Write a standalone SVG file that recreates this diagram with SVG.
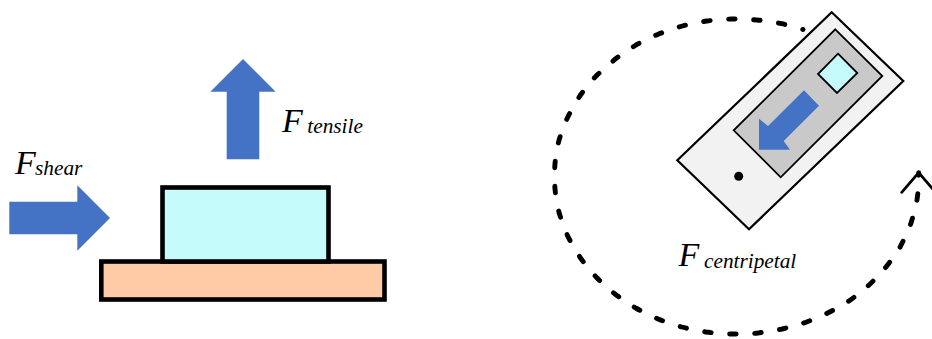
<svg xmlns="http://www.w3.org/2000/svg" width="932" height="339" viewBox="0 0 932 339">
<style>
.force{fill:#4472C4}
.thick{stroke:#000;stroke-width:4.6}
.thin{stroke:#000;stroke-width:2.2;stroke-linejoin:miter}
.lbl{font-family:"Liberation Serif","Times New Roman",serif;font-style:italic;fill:#000}
.big{font-size:34px}
.sub{font-size:21.3px}
</style>
<defs>
<marker id="openHead" markerUnits="userSpaceOnUse" markerWidth="44" markerHeight="30" refX="22" refY="4" orient="0" overflow="visible">
<polyline points="5,23.6 22,4 39,23.6" fill="none" stroke="#000" stroke-width="2.8" stroke-linejoin="round" stroke-linecap="round"/>
</marker>
</defs>
<rect width="932" height="339" fill="#fff"/>
<g id="connectors">
<path id="orbit" fill="none" stroke="#000" stroke-width="4.9" stroke-linecap="round" pathLength="34.85" stroke-dasharray="0.26 0.74" stroke-dashoffset="0.25" marker-end="url(#openHead)" d="M803 29.5Q792 26 781.7 23.7Q769 21 756.7 20Q744 19 731.7 19Q719 19.5 706.7 21Q694 23 682.3 26Q670 29.500 658.700 34Q647 39 636 45Q625 52 615.300 59Q606 67 596.700 75.300Q588 85 580.700 94.700Q574 105 568.300 116Q563 127 559.300 139.300Q556 151 555 163.700Q554 176 555 188.700Q556 201 559.300 213.300Q563 225 568 236.700Q574 248 580.700 258.300Q588 268 596.300 277.300Q605 286 615 294Q625 301.500 635.700 308Q646.500 314 658 319Q669.500 323.500 681.700 327Q693.500 330 706 332Q718.500 333.500 731 334Q743.500 334 756 333.300Q768.500 331.500 780.700 329.300Q793 326.500 804.700 322.700Q816.500 318.500 827.700 313Q839 307.500 849.300 300.700Q859.500 293.500 868.700 285.300Q878 276.500 886 267Q894 257 900.300 246.700Q906 235.500 910.700 224Q914.500 212 917 199.700Q919 187 918.700 172.700"/>
</g>
<g id="substrate"><rect x="101.300" y="261.500" width="283.200" height="38" fill="#FFCBA6" class="thick"/></g>
<g id="chip"><rect x="162.500" y="187.500" width="166" height="74" fill="#C6FBFB" class="thick"/></g>
<g id="shear-arrow"><polygon class="force" points="9.300,201.700 77.300,201.700 77.300,185.300 110,218 77.300,250.700 77.300,234.300 9.300,234.300"/></g>
<g id="tensile-arrow"><polygon class="force" points="243,59 275.700,91.700 259.300,91.700 259.300,159.300 226.700,159.300 226.700,91.700 210.300,91.700"/></g>
<g id="label-shear"><text class="lbl big" x="15" y="173.500">F<tspan class="sub" x="35" y="174.700">shear</tspan></text></g>
<g id="label-tensile"><text class="lbl big" x="282" y="131.700">F<tspan class="sub" x="307.300" y="132.700">tensile</tspan></text></g>
<g id="label-centripetal"><text class="lbl big" x="678.500" y="265.700">F<tspan class="sub" x="704" y="268.300">centripetal</tspan></text></g>
<g id="plate">
<polygon points="831.700,12.300 903.300,81 749,229.300 677.300,160.300" fill="#F2F2F2" class="thin"/>
<polygon points="835.300,29.300 882.300,76 780.700,177.300 733.700,130.300" fill="#C9C9C9" class="thin" style="stroke-width:1.800"/>
<polygon points="838,53.700 857.300,73 837,93 818,74" fill="#C6FBFB" class="thin" style="stroke-width:1.800"/>
<polygon class="force" points="804,90.300 819,105.700 783.700,141 790,149.700 759,149.700 759,118.700 768,126"/>
<circle cx="738.700" cy="176.300" r="4.500" fill="#000"/>
</g>
</svg>
